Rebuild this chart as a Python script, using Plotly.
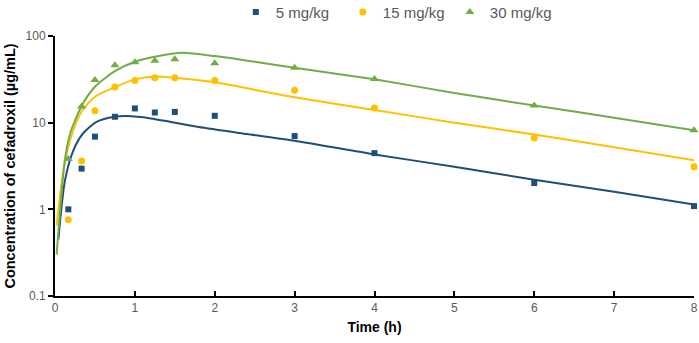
import plotly.graph_objects as go

# Observed data
time_obs = [0.167, 0.333, 0.5, 0.75, 1.0, 1.25, 1.5, 2.0, 3.0, 4.0, 6.0, 8.0]
obs_5 = [1.0, 2.95, 6.9, 11.7, 14.6, 13.1, 13.3, 12.0, 7.0, 4.45, 2.01, 1.09]
obs_15 = [0.76, 3.6, 13.7, 25.8, 30.7, 33.0, 33.0, 30.7, 23.6, 14.8, 6.67, 3.11]
obs_30 = [3.8, 15.4, 31.0, 46.0, 49.7, 51.8, 53.8, 48.5, 43.0, 32.0, 15.8, 8.2]

# Fitted curves
time_fit_5 = [0.042, 0.125, 0.23, 0.35, 0.52, 0.75, 0.9, 1.2, 1.45, 1.8, 2.4, 3.0, 4.0, 5.0, 6.0, 7.0, 8.0]
fit_5 = [0.45, 2.16, 4.8, 7.5, 10.2, 11.7, 11.9, 11.2, 10.2, 8.9, 7.4, 6.2, 4.3, 3.1, 2.2, 1.6, 1.14]
time_fit_15 = [0.02, 0.1, 0.19, 0.33, 0.5, 0.75, 1.0, 1.25, 1.5, 2.0, 2.5, 3.0, 4.0, 5.0, 6.0, 7.0, 8.0]
fit_15 = [0.65, 2.6, 6.3, 13.3, 19.9, 25.7, 31.6, 34.0, 33.0, 29.2, 24.0, 19.6, 14.0, 10.0, 7.3, 5.2, 3.68]
time_fit_30 = [0.02, 0.125, 0.19, 0.33, 0.5, 0.75, 1.0, 1.25, 1.6, 2.0, 2.5, 3.0, 4.0, 5.0, 6.0, 7.0, 8.0]
fit_30 = [0.3, 3.8, 7.5, 15.4, 26.0, 39.4, 50.5, 57.6, 64.0, 58.7, 50.5, 43.0, 31.6, 22.0, 15.8, 11.4, 8.2]

x_ticks = [0, 1, 2, 3, 4, 5, 6, 7, 8]
y_ticks = [0.1, 1, 10, 100]
y_tick_text = ["0.1", "1", "10", "100"]

BLUE = "#1F4E79"
ORANGE = "#FFC000"
GREEN = "#70AD47"
FONT = "Liberation Sans, Arial, sans-serif"

fig = go.Figure()

series = [
    ("5 mg/kg", obs_5, time_fit_5, fit_5, BLUE, "square", 6),
    ("15 mg/kg", obs_15, time_fit_15, fit_15, ORANGE, "circle", 7),
    ("30 mg/kg", obs_30, time_fit_30, fit_30, GREEN, "triangle-up", 8),
]

for name, obs, tf, fv, col, sym, sz in series:
    fig.add_trace(go.Scatter(x=tf, y=fv, mode="lines", line=dict(color=col, width=2, shape="spline", smoothing=0.7),
                             showlegend=False, hoverinfo="skip", cliponaxis=False))
for name, obs, tf, fv, col, sym, sz in series:
    fig.add_trace(go.Scatter(x=time_obs, y=obs, mode="markers", name=name, cliponaxis=False,
                             marker=dict(color=col, symbol=sym, size=sz, line=dict(width=0))))

fig.update_layout(
    width=699, height=343,
    margin=dict(l=55, r=5, t=36, b=47, autoexpand=False),
    paper_bgcolor="white", plot_bgcolor="white",
    font=dict(family=FONT, color="#595959", size=12),
    legend=dict(orientation="h", x=0.283, xanchor="left", y=1.155, yanchor="top",
                font=dict(size=15, color="#595959", family=FONT),
                entrywidth=62, entrywidthmode="pixels", itemwidth=30,
                bgcolor="rgba(0,0,0,0)"),
    showlegend=True,
)

fig.update_xaxes(range=[0, 8], tickvals=x_ticks, ticktext=[str(v) for v in x_ticks],
                 showgrid=False, zeroline=False, showline=True, linecolor="black", linewidth=2,
                 ticks="inside", ticklen=5, tickwidth=1.5, tickcolor="black", automargin=False,
                 tickfont=dict(size=12, color="#595959"),
                 title=dict(text="<b>Time (h)</b>", font=dict(size=14, color="#000000"), standoff=8))
fig.update_yaxes(type="log", range=[-1, 2], tickvals=y_ticks, ticktext=y_tick_text,
                 showgrid=False, zeroline=False, showline=True, linecolor="black", linewidth=2,
                 ticks="outside", ticklen=5, tickwidth=1.5, tickcolor="black", automargin=False,
                 tickfont=dict(size=12, color="#595959"),
                 title=dict(text="<b>Concentration of cefadroxil (µg/mL)</b>",
                            font=dict(size=14.5, color="#000000"), standoff=6))

fig.write_html("out.html", config={"displayModeBar": False},
               post_script="document.body.style.margin='0';document.body.style.padding='0';")
